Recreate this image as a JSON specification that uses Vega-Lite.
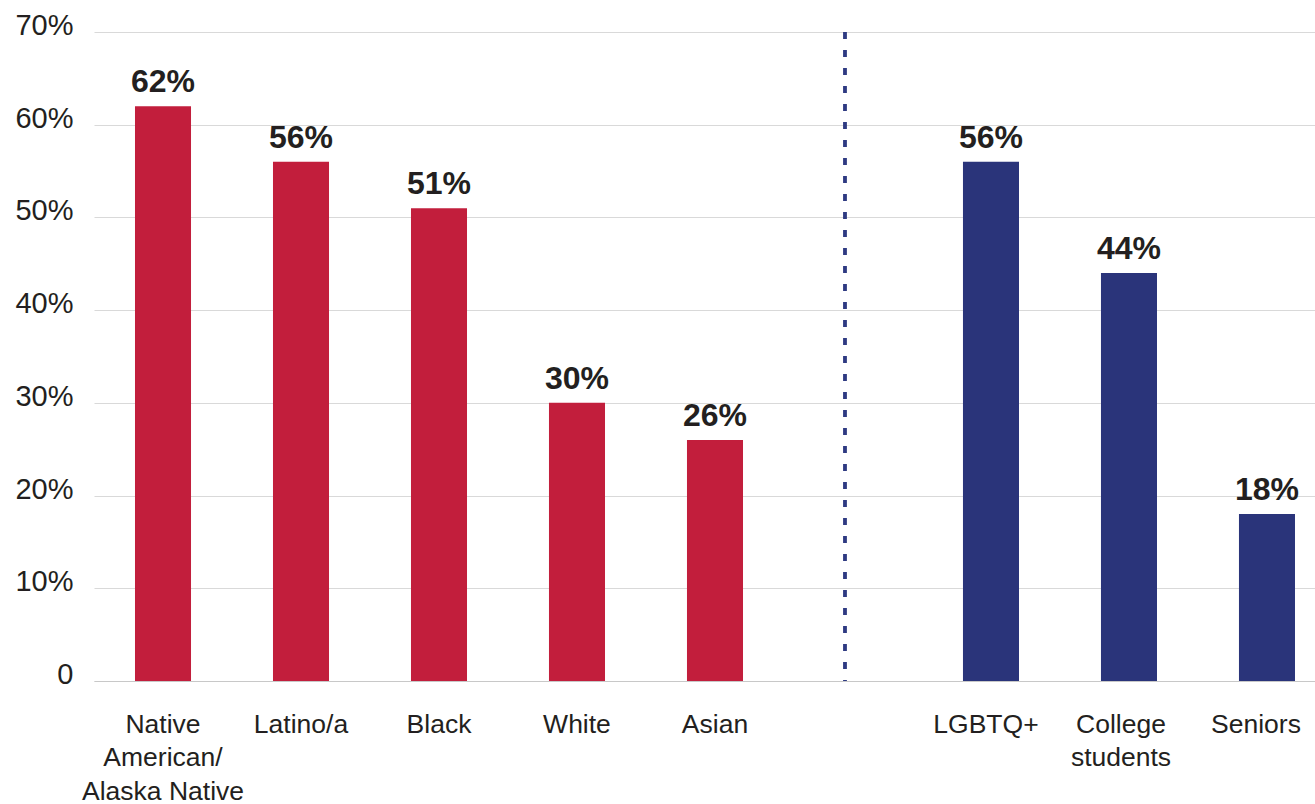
{
  "$schema": "https://vega.github.io/schema/vega-lite/v6.json",
  "width": 1221,
  "height": 649,
  "autosize": {"type": "none"},
  "padding": {"left": 94, "top": 32, "right": 0, "bottom": 123},
  "background": "white",
  "config": {"view": {"stroke": null}, "font": "Liberation Sans"},
  "data": {
    "values": [
      {"group": "Native American/Alaska Native", "value": 62, "set": "race"},
      {"group": "Latino/a", "value": 56, "set": "race"},
      {"group": "Black", "value": 51, "set": "race"},
      {"group": "White", "value": 30, "set": "race"},
      {"group": "Asian", "value": 26, "set": "race"},
      {"group": "LGBTQ+", "value": 56, "set": "other"},
      {"group": "College students", "value": 44, "set": "other"},
      {"group": "Seniors", "value": 18, "set": "other"}
    ]
  },
  "encoding": {
    "x": {
      "field": "group",
      "type": "nominal",
      "sort": null,
      "scale": {
        "domain": ["Native American/Alaska Native", "Latino/a", "Black", "White", "Asian", " ", "LGBTQ+", "College students", "Seniors"],
        "paddingInner": 0.594,
        "paddingOuter": 0.221,
        "align": 0.672
      },
      "axis": {
        "title": null,
        "labelAngle": 0,
        "ticks": false,
        "grid": false,
        "domain": true,
        "domainColor": "#c8c8c8",
        "domainWidth": 1.2,
        "labelFontSize": 26.5,
        "labelColor": "#231f20",
        "labelPadding": 30,
        "labelLineHeight": 33.5,
        "labelBaseline": "top",
        "labelLimit": 0,
        "labelOffset": {"condition": [{"test": "datum.value === 'LGBTQ+'", "value": -5}, {"test": "datum.value === 'College students'", "value": -8}, {"test": "datum.value === 'Seniors'", "value": -11}], "value": 0},
        "labelExpr": "datum.value === 'Native American/Alaska Native' ? ['Native', 'American/', 'Alaska Native'] : datum.value === 'College students' ? ['College', 'students'] : datum.value"
      }
    },
    "y": {
      "field": "value",
      "type": "quantitative",
      "scale": {"domain": [0, 70]},
      "axis": {
        "title": null,
        "values": [0, 10, 20, 30, 40, 50, 60, 70],
        "grid": true,
        "gridColor": "#d9d9d9",
        "gridWidth": 1.2,
        "ticks": false,
        "domain": false,
        "labelFontSize": 29,
        "labelColor": "#231f20",
        "labelPadding": 21,
        "labelOffset": -6.5,
        "labelExpr": "datum.value == 0 ? '0' : datum.value + '%'"
      }
    }
  },
  "layer": [
    {
      "mark": {"type": "bar"},
      "encoding": {
        "color": {"field": "set", "type": "nominal", "scale": {"domain": ["race", "other"], "range": ["#c21e3c", "#2a347a"]}, "legend": null}
      }
    },
    {
      "mark": {"type": "text", "dy": -14, "fontWeight": "bold", "fontSize": 32, "baseline": "alphabetic", "color": "#231f20", "text": {"expr": "datum.value + '%'"}}
    },
    {
      "mark": {"type": "rule", "strokeDash": [7, 11], "strokeWidth": 2.5, "color": "#2e3a82", "xOffset": -8},
      "encoding": {"x": {"datum": " "}, "y": {"datum": 70}, "y2": {"datum": 0}}
    }
  ]
}
